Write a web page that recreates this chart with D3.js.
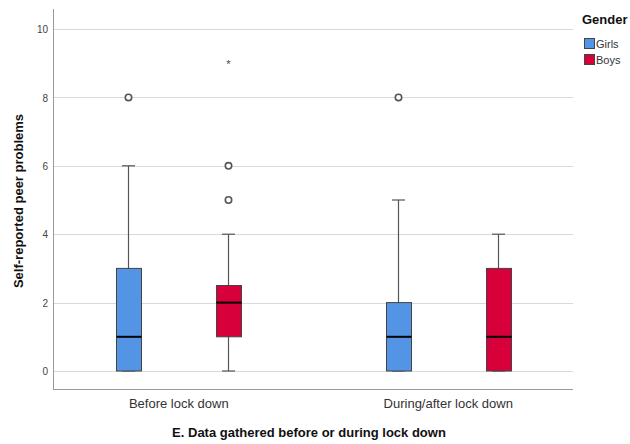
<!DOCTYPE html>
<html>
<head>
<meta charset="utf-8">
<script src="https://d3js.org/d3.v7.min.js"></script>
<style>
  body { margin: 0; background: #fff; }
  text { font-family: Arial, "Liberation Sans", sans-serif; }
</style>
</head>
<body>
<div id="chart"></div>
<script>
// categories and groups
var periods = ["Before lock down", "During/after lock down"];
var genders = ["Girls", "Boys"];
var genderColors = ["#5394e4", "#d8003a"];

// box summaries: [min whisker, Q1, median, Q3, max whisker]
var girlsStats = [[0, 0, 1, 3, 6], [0, 0, 1, 2, 5]];
var boysStats = [[0, 1, 2, 2.5, 4], [0, 0, 1, 3, 4]];
// outliers (circles) and extremes (stars)
var girlsOutliers = [[8], [8]];
var boysOutliers = [[5, 6], []];
var boysExtremes = [[9], []];
var girlsExtremes = [[], []];

var yTicks = [0, 2, 4, 6, 8, 10];

var width = 630, height = 444;
var margin = {top: 9, right: 57, bottom: 55, left: 53};

var svg = d3.select("#chart").append("svg")
  .attr("width", width)
  .attr("height", height);

var y = d3.scaleLinear().domain([0, 10]).range([371, 29]);

var x = d3.scaleBand().domain(periods)
  .range([margin.left - 9, width - margin.right + 10])
  .padding(0);

var xg = d3.scaleBand().domain(genders)
  .range([0, x.bandwidth()])
  .paddingInner(0.75).paddingOuter(0.7225);

var color = d3.scaleOrdinal().domain(genders).range(genderColors);

var plotBottom = height - margin.bottom; // 389
var plotRight = width - margin.right;   // 573

// gridlines
svg.append("g").selectAll("line").data(yTicks).enter().append("line")
  .attr("x1", margin.left).attr("x2", plotRight)
  .attr("y1", function (d) { return Math.round(y(d)) + 0.5; })
  .attr("y2", function (d) { return Math.round(y(d)) + 0.5; })
  .attr("stroke", "#d9d9d9").attr("stroke-width", 1);

// y axis
var yAxis = d3.axisLeft(y).tickValues(yTicks).tickSize(0).tickPadding(5);
var yg = svg.append("g").attr("transform", "translate(" + margin.left + ",0.5)").call(yAxis);
yg.select(".domain").remove();
yg.selectAll("text").attr("font-size", 10).attr("fill", "#444")
  .style("font-family", "Arial, 'Liberation Sans', sans-serif");
svg.append("line")
  .attr("x1", margin.left + 0.5).attr("x2", margin.left + 0.5)
  .attr("y1", margin.top).attr("y2", plotBottom)
  .attr("stroke", "#999");

// x axis
var xAxis = d3.axisBottom(x).tickSize(0).tickPadding(10);
var xgAxis = svg.append("g").attr("transform", "translate(0," + plotBottom + ")").call(xAxis);
xgAxis.select(".domain").remove();
xgAxis.selectAll("text").attr("font-size", 13).attr("fill", "#333")
  .style("font-family", "Arial, 'Liberation Sans', sans-serif");
svg.append("line")
  .attr("x1", margin.left).attr("x2", plotRight)
  .attr("y1", plotBottom + 0.5).attr("y2", plotBottom + 0.5)
  .attr("stroke", "#999");

// axis titles
svg.append("text")
  .attr("transform", "translate(23," + (y(5) + 1) + ") rotate(-90)")
  .attr("text-anchor", "middle")
  .attr("font-size", 13).attr("font-weight", "bold").attr("fill", "#111")
  .text("Self-reported peer problems");

svg.append("text")
  .attr("x", 309).attr("y", 437)
  .attr("text-anchor", "middle")
  .attr("font-size", 13).attr("font-weight", "bold").attr("fill", "#111")
  .text("E. Data gathered before or during lock down");

// build the box records
var boxes = [];
periods.forEach(function (p, i) {
  boxes.push({period: p, gender: "Girls", s: girlsStats[i], out: girlsOutliers[i], ext: girlsExtremes[i]});
  boxes.push({period: p, gender: "Boys", s: boysStats[i], out: boysOutliers[i], ext: boysExtremes[i]});
});

var bw = xg.bandwidth();
var g = svg.append("g").selectAll("g").data(boxes).enter().append("g")
  .attr("transform", function (d) {
    return "translate(" + Math.round(x(d.period) + xg(d.gender)) + ",0)";
  });

var cx = Math.round(bw / 2) + 0.5;

// whiskers
g.append("line")
  .attr("x1", cx).attr("x2", cx)
  .attr("y1", function (d) { return y(d.s[4]); })
  .attr("y2", function (d) { return y(d.s[0]); })
  .attr("stroke", "#555").attr("stroke-width", 1.2);
g.selectAll(".cap").data(function (d) { return [d.s[0], d.s[4]]; }).enter().append("line")
  .attr("x1", cx - 6.5).attr("x2", cx + 6.5)
  .attr("y1", function (v) { return y(v); })
  .attr("y2", function (v) { return y(v); })
  .attr("stroke", "#555").attr("stroke-width", 1.2);

// box
g.append("rect")
  .attr("x", 0.5)
  .attr("width", bw)
  .attr("y", function (d) { return y(d.s[3]); })
  .attr("height", function (d) { return y(d.s[1]) - y(d.s[3]); })
  .attr("fill", function (d) { return color(d.gender); })
  .attr("stroke", "#444").attr("stroke-width", 1);

// median
g.append("line")
  .attr("x1", 0.5).attr("x2", bw + 0.5)
  .attr("y1", function (d) { return y(d.s[2]); })
  .attr("y2", function (d) { return y(d.s[2]); })
  .attr("stroke", "#000").attr("stroke-width", 2);

// outliers
g.selectAll(".out").data(function (d) { return d.out; }).enter().append("circle")
  .attr("cx", cx).attr("cy", function (v) { return y(v); })
  .attr("r", 3.2)
  .attr("fill", "#fff").attr("stroke", "#555").attr("stroke-width", 1.6);

// extremes
g.selectAll(".ext").data(function (d) { return d.ext; }).enter().append("text")
  .attr("x", cx).attr("y", function (v) { return y(v) + 5; })
  .attr("text-anchor", "middle")
  .attr("font-size", 11).attr("fill", "#444")
  .text("*");

// legend
var legend = svg.append("g").attr("transform", "translate(582,0)");
legend.append("text").attr("x", 0).attr("y", 24)
  .attr("font-size", 13).attr("font-weight", "bold").attr("fill", "#111")
  .text("Gender");
var li = legend.selectAll(".li").data(genders).enter().append("g")
  .attr("transform", function (d, i) { return "translate(2," + (38 + i * 16) + ")"; });
li.append("rect").attr("x", 0.5).attr("y", 0.5).attr("width", 10).attr("height", 10)
  .attr("fill", function (d) { return color(d); })
  .attr("stroke", "#444");
li.append("text").attr("x", 12).attr("y", 10)
  .attr("font-size", 11).attr("fill", "#333")
  .text(function (d) { return d; });
</script>
</body>
</html>
